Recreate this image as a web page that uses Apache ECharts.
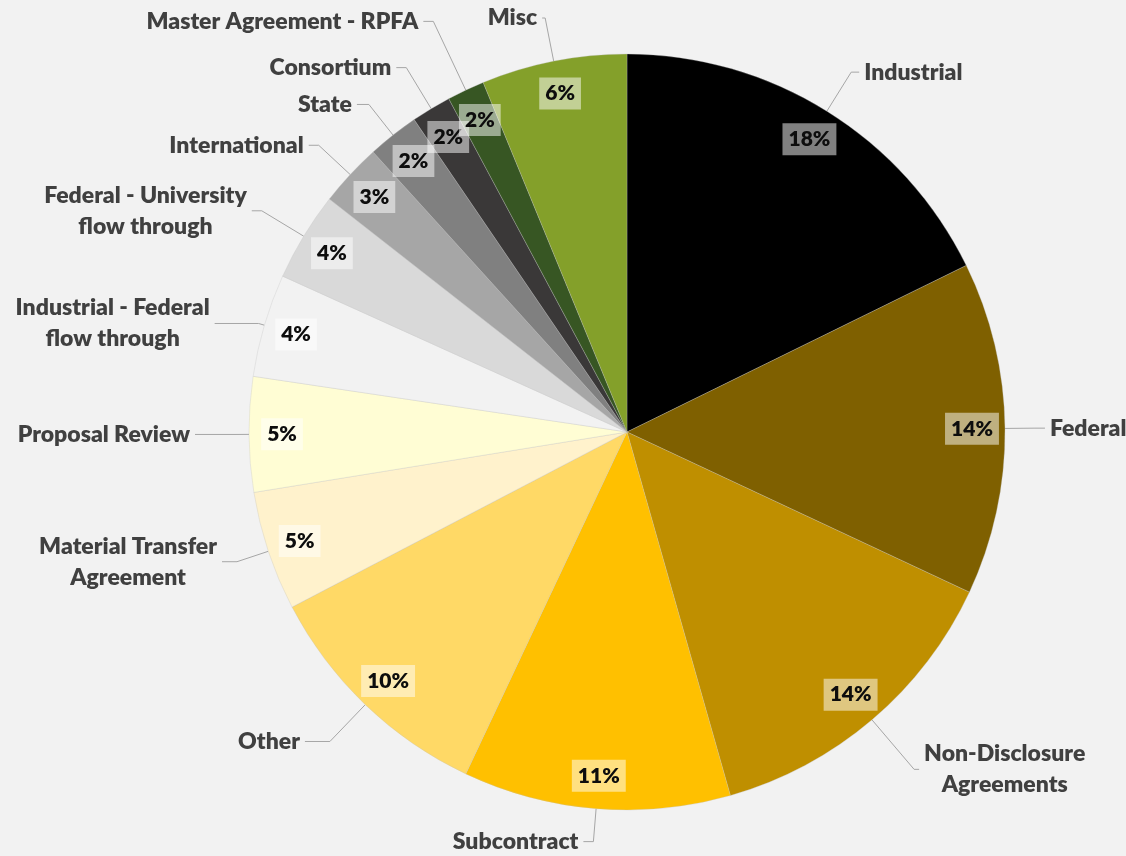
<!DOCTYPE html>
<html>
<head>
<meta charset="utf-8">
<script src="https://cdn.jsdelivr.net/npm/echarts@6/dist/echarts.min.js"></script>
<style>
  html, body { margin: 0; padding: 0; background: #f2f2f2; }
  #chart { width: 1126px; height: 856px; }
</style>
</head>
<body>
<div id="chart"></div>
<script>
// agreement types, clockwise from 12 o'clock
const categories = [
  'Industrial', 'Federal', 'Non-Disclosure\nAgreements', 'Subcontract', 'Other',
  'Material Transfer\nAgreement', 'Proposal Review', 'Industrial - Federal\nflow through',
  'Federal - University\nflow through', 'International', 'State', 'Consortium',
  'Master Agreement - RPFA', 'Misc'
];
// share of agreements (%)
const shares = [17.7, 14.2, 13.6, 11.4, 10.3, 5.1, 4.9, 4.4, 3.8, 2.7, 2.2, 1.7, 1.6, 6.2];
const colors = [
  '#000000', '#7f6000', '#bf8f00', '#ffc000', '#ffd966', '#fff2cc', '#fffdd4',
  '#f2f2f2', '#d9d9d9', '#a6a6a6', '#808080', '#3a3838', '#375623', '#84a02a'
];
// leader line [length, length2] per slice, so labels spread like the original
const leaders = [
  [46, 8], [30, 10], [65, 5], [33, 10], [51, 25], [33, 15], [14, 40],
  [6, 44], [49, 10], [43, 10], [39, 12], [48, 10], [76, 10], [44, 3]
];

const FONT = 'Lato, "Open Sans", sans-serif';

const pieData = categories.map(function (name, i) {
  return {
    name: name,
    value: shares[i],
    itemStyle: { color: colors[i] },
    labelLine: { length: leaders[i][0], length2: leaders[i][1] }
  };
});

let chart = echarts.init(document.getElementById('chart'));
chart.setOption({
  backgroundColor: '#f2f2f2',
  animation: false,
  series: [
    {
      // slices + category labels
      name: 'names',
      type: 'pie',
      center: [627, 432],
      radius: [0, 378],
      startAngle: 90,
      avoidLabelOverlap: false,
      data: pieData,
      itemStyle: {
        borderColor: 'rgba(190,190,190,0.6)',
        borderWidth: 0.5
      },
      label: {
        show: true,
        position: 'outside',
        overflow: 'none',
        formatter: function (p) {
          // center each line of two-line labels
          return p.name.split('\n').map(function (s) { return '{c|' + s + '}'; }).join('\n');
        },
        rich: {
          c: {
            align: 'center',
            color: '#404040',
            fontFamily: FONT,
            fontWeight: 800,
            fontSize: 23,
            lineHeight: 31
          }
        }
      },
      labelLine: {
        show: true,
        lineStyle: { color: '#a6a6a6', width: 1 }
      },
      emphasis: { disabled: true }
    },
    {
      // percentage labels sitting near the rim
      name: 'percent',
      type: 'pie',
      center: [627, 432],
      radius: [306, 378],
      startAngle: 90,
      silent: true,
      avoidLabelOverlap: false,
      labelLayout: { hideOverlap: false },
      data: pieData.map(function (d) { return { name: d.name, value: d.value }; }),
      itemStyle: { color: 'rgba(0,0,0,0)' },
      label: {
        show: true,
        position: 'inside',
        formatter: function (p) { return Math.round(p.percent) + '%'; },
        color: '#0d0d0d',
        fontFamily: FONT,
        fontWeight: 800,
        fontSize: 21,
        backgroundColor: 'rgba(255,255,255,0.5)',
        padding: [6, 6, 5, 6]
      },
      labelLine: { show: false },
      emphasis: { disabled: true }
    }
  ]
});
</script>
</body>
</html>
